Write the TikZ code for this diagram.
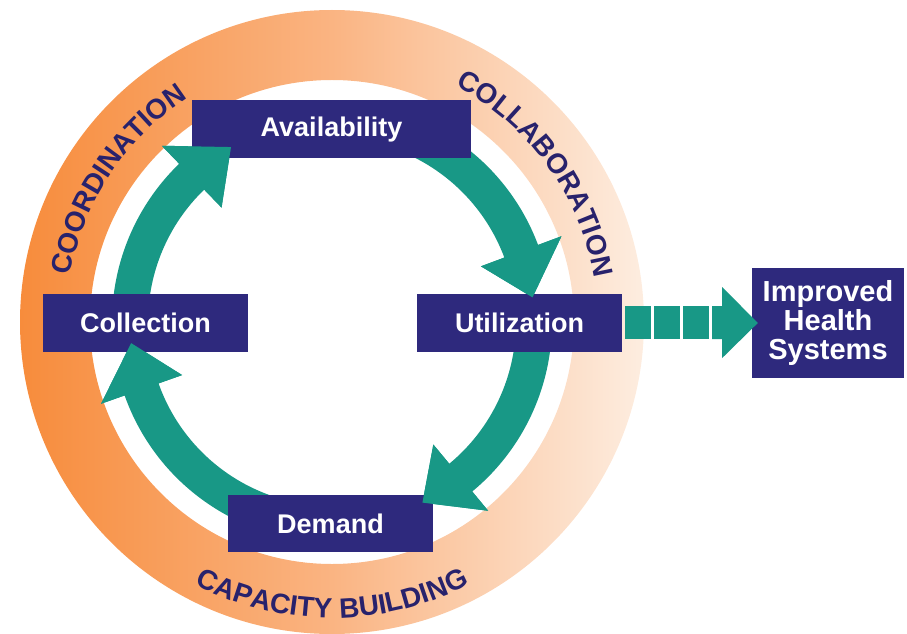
\documentclass[tikz,border=0pt]{standalone}
\usepackage{fontspec}
\setmainfont{Liberation Sans}
\usepackage{tikz}
\usetikzlibrary{calc,decorations.text}

\definecolor{ringdark}{RGB}{247,140,60}
\definecolor{ringmid}{RGB}{250,180,130}
\definecolor{ringpale}{RGB}{253,237,224}
\definecolor{cycleteal}{RGB}{24,152,134}
\definecolor{boxnavy}{RGB}{46,41,125}
\definecolor{labelnavy}{RGB}{40,34,108}

\newcommand{\boxfont}{\fontsize{27}{29}\selectfont\bfseries}
\newcommand{\ringfont}{\fontsize{28}{30}\selectfont\bfseries\color{labelnavy}}

\tikzset{
  stagebox/.style={fill=boxnavy, text=white, font=\boxfont, inner sep=0pt, minimum width=205pt, minimum height=58pt},
  cyclearrow/.style={fill=cycleteal},
}

\begin{document}
\begin{tikzpicture}[x=1pt,y=1pt]
    \useasboundingbox (0,0) rectangle (907,633);
    \coordinate (c) at (332,311);
 % Ring
    \shade[left color=ringdark, right color=ringpale, middle color=ringmid, even odd rule] (c) circle (312) (c) circle (242);
 % Ring labels
    \path[decorate, decoration={text along path, text={|\ringfont|COORDINATION}, text align=center}] ($(c)+(186.4:266)$) arc[start angle=186.4, end angle=106.4, radius=266];
    \path[decorate, decoration={text along path, text={|\ringfont|COLLABORATION}, text align=center}] ($(c)+(76:266)$) arc[start angle=76, end angle=-4, radius=266];
    \path[decorate, decoration={text along path, text={|\ringfont|CAPACITY BUILDING}, text align=center}] ($(c)+(230:296)$) arc[start angle=230, end angle=310, radius=296];
 % Cycle arrows (start / head base / tip angles)
    \foreach \s/\b/\t in {180/134/120, 90/20.5/7, 0/-50.4/-63.4, -90/-160.5/-174}
      \fill[cyclearrow] ($(c)+(\s:220)$) arc[start angle=\s, end angle=\b, radius=220] -- ($(c)+(\b:245)$) -- ($(c)+(\t:202)$) -- ($(c)+(\b:159)$) -- ($(c)+(\b:184)$) arc[start angle=\b, end angle=\s, radius=184] -- cycle;
 % Stages
    \node[stagebox, minimum width=279pt] (avail) at (331.5,503.5) {Availability};
    \node[stagebox] (coll) at (145.5,310.5) {Collection};
    \node[stagebox] (util) at (519.5,310.5) {Utilization};
    \node[stagebox, minimum height=57pt] (demand) at (330.5,109.5) {Demand};
    \node[stagebox, minimum width=152pt, minimum height=110pt, align=center, font=\fontsize{29}{29}\selectfont\bfseries] (health) at (828,310) {Improved\\Health\\Systems};
 % Heads lie over the boxes
    \foreach \b/\t in {134/120, 20.5/7, -50.4/-63.4, -160.5/-174}
      \fill[cyclearrow] ($(c)+(\b:245)$) -- ($(c)+(\t:202)$) -- ($(c)+(\b:159)$) -- cycle;
 % Output arrow
    \foreach \i in {0,1,2}
      \fill[cyclearrow] ($(util.east)+(3+29*\i,-16.5)$) rectangle ++(26,33);
    \fill[cyclearrow] ($(util.east)+(90,-16.5)$) -- ++(10,0) -- ++(0,-19) -- ($(health.west)+(6,0)$) -- ($(util.east)+(100,35.5)$) -- ++(0,-19) -- ++(-10,0) -- cycle;
\end{tikzpicture}
\end{document}
